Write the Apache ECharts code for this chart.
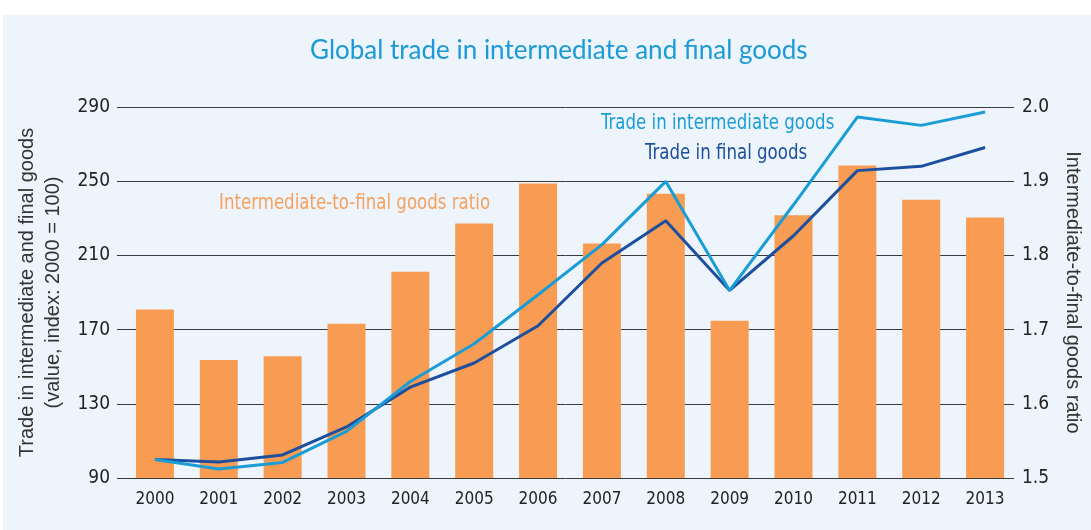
<!DOCTYPE html>
<html>
<head>
<meta charset="utf-8">
<script src="https://cdn.jsdelivr.net/npm/echarts@6/dist/echarts.min.js"></script>
<style>
  html, body { margin: 0; padding: 0; background: #ffffff; }
  #chart { width: 1091px; height: 530px; }
</style>
</head>
<body>
<div id="chart"></div>
<script>
// Years on the category axis
const years = ['2000', '2001', '2002', '2003', '2004', '2005', '2006',
               '2007', '2008', '2009', '2010', '2011', '2012', '2013'];

// Trade value indices (2000 = 100)
const intermediateGoods = [100, 94.8, 98.4, 115.1, 142, 162.4, 188.8,
                           215.8, 249.9, 191.1, 237.3, 284.6, 280.1, 287.3];
const finalGoods = [100, 98.6, 102.4, 117.5, 139, 152, 172.1,
                    205.9, 228.7, 191.1, 220.6, 255.7, 258, 268.2];

// Intermediate-to-final goods ratio (right axis)
const goodsRatio = [1.727, 1.659, 1.664, 1.708, 1.778, 1.843, 1.897,
                    1.816, 1.883, 1.712, 1.854, 1.921, 1.875, 1.851];

// Axis scales
const indexTicks = { min: 90, max: 290, interval: 40 };
const ratioTicks = { min: 1.5, max: 2.0, interval: 0.1 };

const COLORS = {
  panel: '#eef4fb',
  title: '#1a9ad6',
  light: '#1a9dd6',
  dark: '#1c4f9e',
  bar: '#f79c52',
  barLabel: '#f5a25f',
  text: '#222222',
  grid: '#3a3a3a'
};

const narrow = '"Liberation Sans Narrow", "DejaVu Sans Condensed", "Liberation Sans", sans-serif';

// Condensed in-chart labels: regular font squeezed horizontally
function seriesLabel(text, left, top, color) {
  return {
    type: 'text', left: left, top: top, z: 10,
    scaleX: 0.88, originX: 0,
    style: { text: text, fill: color, font: '21px ' + narrow }
  };
}

const chart = echarts.init(document.getElementById('chart'), null, { renderer: 'canvas' });

const option = {
  backgroundColor: '#ffffff',
  animation: false,
  title: {
    text: 'Global trade in intermediate and final goods',
    left: 305,
    top: 33,
    textStyle: {
      color: COLORS.title,
      fontFamily: 'Lato, "Open Sans", sans-serif',
      fontWeight: 'normal',
      fontSize: 26
    }
  },
  graphic: [
    {
      type: 'rect', z: -10, silent: true,
      shape: { x: 3, y: 15, width: 1088, height: 515 },
      style: { fill: COLORS.panel }
    },
    seriesLabel('Trade in intermediate goods', 601, 113, COLORS.light),
    seriesLabel('Trade in final goods', 645, 143, COLORS.dark),
    seriesLabel('Intermediate-to-final goods ratio', 219, 193, COLORS.barLabel)
  ],
  grid: [
    // data area
    { left: 123, right: 74, top: 107, bottom: 52 },
    // reference lines and axis labels span slightly wider
    { left: 117, right: 68, top: 107, bottom: 52 }
  ],
  xAxis: [
    {
      type: 'category', gridIndex: 0, data: years,
      axisLine: { show: false }, axisTick: { show: false },
      axisLabel: { color: COLORS.text, fontFamily: narrow, fontSize: 17, margin: 13 }
    },
    {
      type: 'category', gridIndex: 1, data: years, show: false
    }
  ],
  yAxis: [
    {
      type: 'value', gridIndex: 0, position: 'left', show: false,
      min: indexTicks.min, max: indexTicks.max, interval: indexTicks.interval
    },
    {
      type: 'value', gridIndex: 0, position: 'right', show: false,
      min: ratioTicks.min, max: ratioTicks.max, interval: ratioTicks.interval
    },
    {
      type: 'value', gridIndex: 1, position: 'left',
      min: indexTicks.min, max: indexTicks.max, interval: indexTicks.interval,
      name: 'Trade in intermediate and final goods\n(value, index: 2000 = 100)',
      nameLocation: 'middle', nameRotate: 90, nameGap: 39,
      nameTextStyle: { color: '#333333', fontFamily: '"Liberation Sans", Arial, sans-serif',
                       fontSize: 20, lineHeight: 26 },
      axisLine: { show: false }, axisTick: { show: false },
      axisLabel: { color: COLORS.text, fontFamily: narrow, fontSize: 19, margin: 7 },
      splitLine: { show: true, lineStyle: { color: COLORS.grid, width: 1 } }
    },
    {
      type: 'value', gridIndex: 1, position: 'right',
      min: ratioTicks.min, max: ratioTicks.max, interval: ratioTicks.interval,
      name: 'Intermediate-to-final goods ratio',
      nameLocation: 'middle', nameRotate: -90, nameGap: 49,
      nameTextStyle: { color: '#333333', fontFamily: '"Liberation Sans", Arial, sans-serif',
                       fontSize: 20 },
      axisLine: { show: false }, axisTick: { show: false },
      axisLabel: { color: COLORS.text, fontFamily: narrow, fontSize: 19, margin: 8,
                   formatter: v => v.toFixed(1) },
      splitLine: { show: false }
    }
  ],
  series: [
    {
      name: 'Intermediate-to-final goods ratio',
      type: 'bar', xAxisIndex: 0, yAxisIndex: 1,
      data: goodsRatio, barWidth: 38, z: 2,
      itemStyle: { color: COLORS.bar }
    },
    {
      name: 'Trade in final goods',
      type: 'line', xAxisIndex: 0, yAxisIndex: 0,
      data: finalGoods, symbol: 'none', z: 4,
      lineStyle: { color: COLORS.dark, width: 3 }
    },
    {
      name: 'Trade in intermediate goods',
      type: 'line', xAxisIndex: 0, yAxisIndex: 0,
      data: intermediateGoods, symbol: 'none', z: 5,
      lineStyle: { color: COLORS.light, width: 3 }
    }
  ]
};

chart.setOption(option);
</script>
</body>
</html>
